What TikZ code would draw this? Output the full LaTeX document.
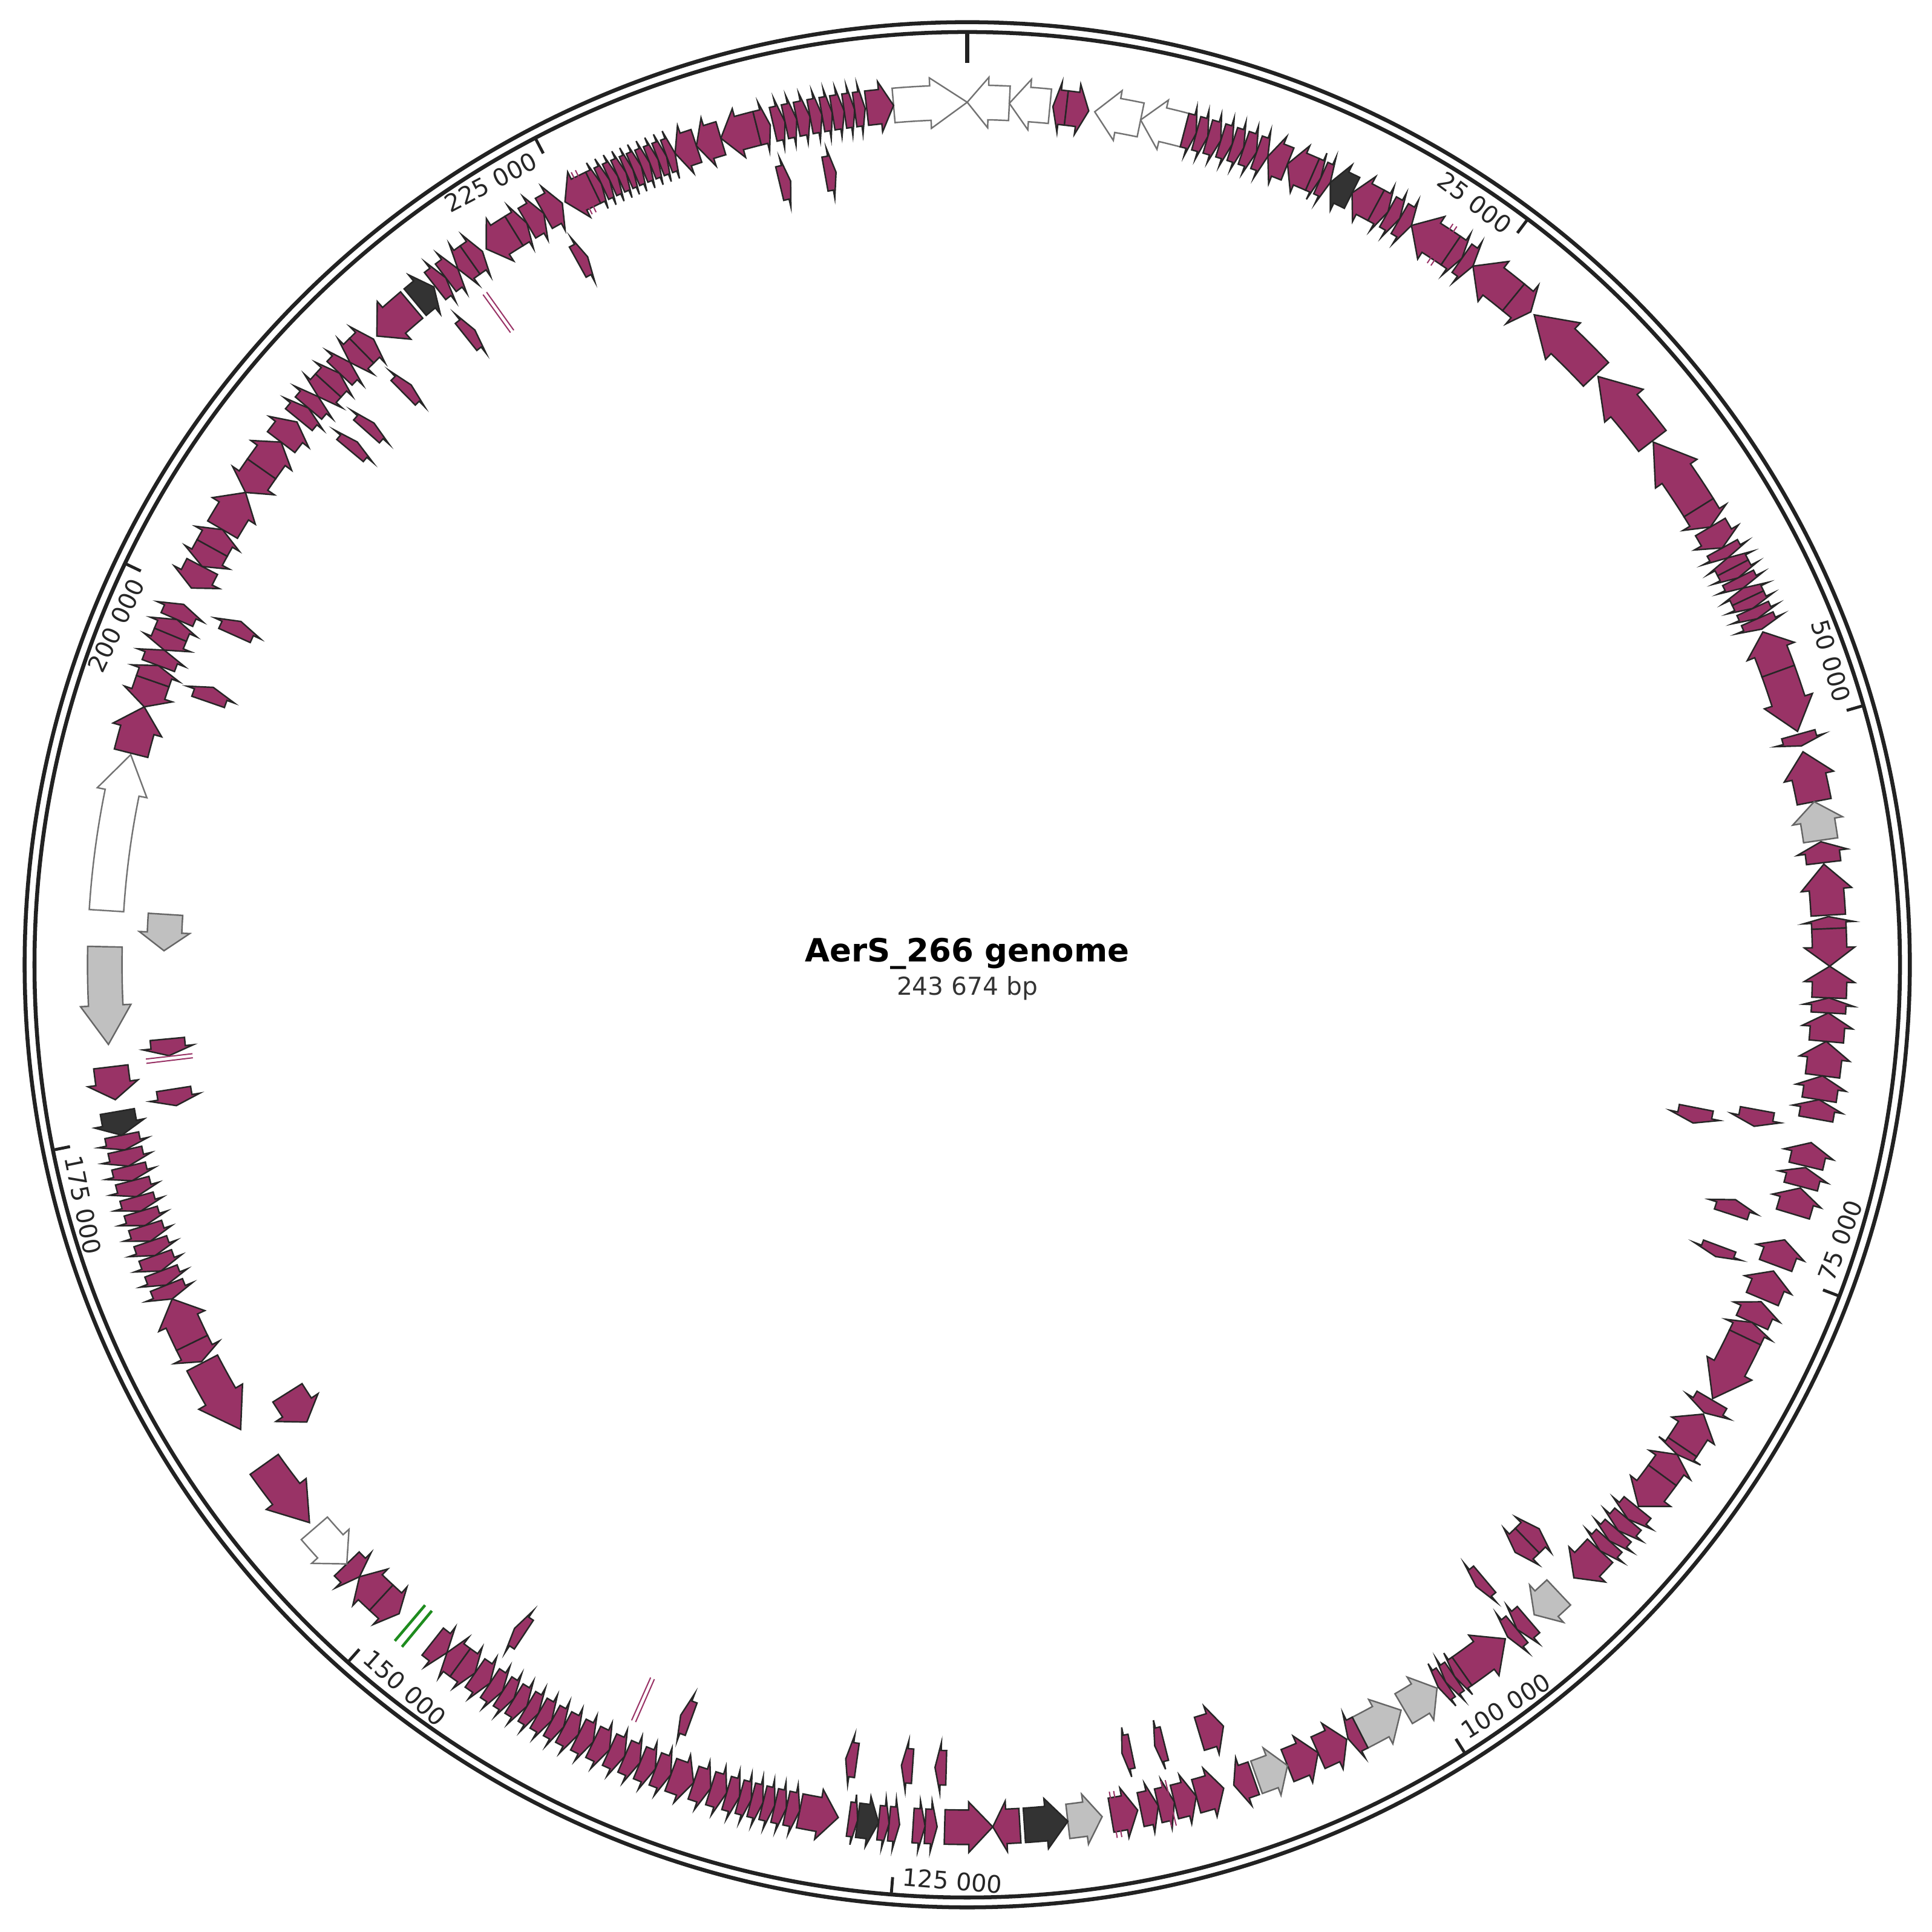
\documentclass[tikz,border=0pt]{standalone}
\usepackage{fontspec}
\setmainfont{DejaVu Sans}
\definecolor{cds}{HTML}{993366}
\definecolor{ringc}{HTML}{222222}
\definecolor{greyc}{HTML}{C0C0C0}
\definecolor{darkc}{HTML}{333333}
\definecolor{rrnac}{HTML}{1E8C1E}

% gene arrow: from angle #2 to angle #3 (compass degrees), on the lane of radius #4
\newcommand{\gene}[4][cd]{%
  \pgfmathsetmacro\gnA{90-(#2)}%
  \pgfmathsetmacro\gnB{90-(#3)}%
  \pgfmathsetmacro\gnS{((#3)>(#2))*2-1}%
  \pgfmathsetmacro\gnL{abs((#3)-(#2))}%
  \pgfmathsetmacro\gnH{min(5700/(pi*(#4)),0.5*\gnL)*\gnS}%
  \pgfmathsetmacro\gnM{\gnB+\gnH}%
  \pgfmathsetmacro\gnRi{(#4)-14}\pgfmathsetmacro\gnRo{(#4)+14}%
  \pgfmathsetmacro\gnHi{(#4)-20.5}\pgfmathsetmacro\gnHo{(#4)+20.5}%
  \draw[#1] (\gnA:\gnRi) arc[start angle=\gnA,end angle=\gnM,radius=\gnRi]
    -- (\gnM:\gnHi) -- (\gnB:#4) -- (\gnM:\gnHo) -- (\gnM:\gnRo)
    arc[start angle=\gnM,end angle=\gnA,radius=\gnRo] -- cycle;}
% double rna line at angle #2, lane #3, half gap #4
\newcommand{\rna}[4][trna]{%
  \draw[#1] ({90-(#2)-(#4)}:{(#3)-19}) -- ({90-(#2)-(#4)}:{(#3)+19});
  \draw[#1] ({90-(#2)+(#4)}:{(#3)-19}) -- ({90-(#2)+(#4)}:{(#3)+19});}

\begin{document}
\begin{tikzpicture}[x=1pt,y=1pt,
    cd/.style={draw=black!85,fill=cds,line width=1.2pt},
    wt/.style={draw=black!55,fill=white,line width=1.2pt},
    gy/.style={draw=black!60,fill=greyc,line width=1.2pt},
    dk/.style={draw=black!85,fill=darkc,line width=1.2pt},
    trna/.style={draw=cds,line width=1pt},
    rrna/.style={draw=rrnac,line width=2.2pt},
    ringline/.style={draw=ringc,line width=3.2pt},
    lbl/.style={font=\fontsize{19.6}{22}\selectfont,text=black!85,inner sep=0pt}]
    \useasboundingbox (-785,-785) rectangle (783,783);

    \draw[ringline] (0,0) circle[radius=765];
    \draw[ringline] (0,0) circle[radius=757];
    \draw[ringc,line width=3.5pt] (90:757) -- (90:732);
    \foreach \k in {1,...,9} {
        \pgfmathsetmacro\tA{90-\k*36.9346}
        \draw[ringc,line width=2.4pt] (\tA:757) -- (\tA:743);
    }
    \node[lbl,rotate=-36.93,anchor=east] (k25) at ({90-36.93+0.6}:742) {25 000};
    \node[lbl,rotate=-73.87,anchor=east] (k50) at ({90-73.87+0.6}:742) {50 000};
    \node[lbl,rotate=180-110.80,anchor=west] (k75) at ({90-110.80+0.6}:742) {75 000};
    \node[lbl,rotate=180-147.74,anchor=west] (k100) at ({90-147.74+0.6}:742) {100 000};
    \node[lbl,rotate=180-184.67,anchor=west] (k125) at ({90-184.67+0.6}:742) {125 000};
    \node[lbl,rotate=180-221.61,anchor=west] (k150) at ({90-221.61+0.6}:742) {150 000};
    \node[lbl,rotate=180-258.54,anchor=west] (k175) at ({90-258.54+0.6}:742) {175 000};
    \node[lbl,rotate=-295.48,anchor=east] (k200) at ({90-295.48+0.6}:742) {200 000};
    \node[lbl,rotate=-332.41,anchor=east] (k225) at ({90-332.41+0.6}:742) {225 000};

    \node[font=\bfseries\fontsize{26}{30}\selectfont] (ttl) at (0,9) {AerS\_266 genome};
    \node[font=\fontsize{20}{24}\selectfont,text=black!80] (len) at (0,-19) {243 674 bp};

    % outer lane
    \gene[wt]{355.1}{360}{700}
    \gene[wt]{2.8}{0}{700}
    \gene[wt]{5.5}{2.8}{700}
    \gene{6.6}{5.7}{700}
    \gene{6.6}{8.1}{700}
    \gene[wt]{11.6}{8.5}{700}
    \gene[wt]{14.6}{11.6}{700}
    \foreach \a/\b in {14.6/15.4,15.4/16.2,16.2/17.1,17.1/17.9,17.9/18.7,18.7/19.6,19.6/20.4}
        {\gene{\a}{\b}{700}}
    \gene{21.8}{20.4}{700}
    \gene{23.6}{21.8}{700}
    \gene{23.6}{24.2}{700}
    \gene{24.2}{24.9}{700}
    \gene[dk]{26.5}{24.9}{700}
    \gene{28.3}{26.5}{700}
    \foreach \a/\b in {28.3/29.2,29.2/30.1,30.1/31}
        {\gene{\a}{\b}{700}}
    \gene{34.1}{31}{700}
    \rna{33.4}{700}{0.15}
    \gene{34.1}{35}{700}
    \gene{35}{35.9}{700}
    \gene{39.3}{35.9}{700}
    \gene{39.3}{40.8}{700}
    \gene{46.8}{41.1}{700}
    \gene{52.6}{47}{700}
    \gene{58}{52.7}{700}
    \gene{58}{59.5}{700}
    \gene{59.5}{61.1}{700}
    \foreach \a/\b in {61.1/61.85,62.6/61.85,62.6/63.35,63.35/64.1,64.85/64.1,64.85/65.6,65.6/66.35,66.35/67.1}
        {\gene{\a}{\b}{700}}
    \gene{70.1}{67.3}{700}
    \gene{70.1}{74.3}{700}
    \gene{74.5}{75.3}{700}
    \gene{79.1}{75.7}{700}
    \gene[gy]{81.7}{79.1}{700}
    \gene{83.2}{81.8}{700}
    \gene{86.7}{83.3}{700}
    \gene{87.6}{86.8}{700}
    \gene{87.6}{90.1}{700}
    \gene{92.2}{90.1}{700}
    \gene{93.2}{92.2}{700}
    \gene{95.1}{93.2}{700}
    \gene{97.4}{95.1}{700}
    \gene{99}{97.4}{700}
    \gene{100.3}{99}{700}
    \gene{103.5}{101.9}{700}
    \gene{104.9}{103.6}{700}
    \gene{106.8}{105}{700}
    \gene{110.4}{108.6}{700}
    \gene{112.8}{110.8}{700}
    \gene{114.5}{113}{700}
    \gene{115.6}{114.5}{700}
    \gene{115.6}{120.2}{700}
    \gene{120.3}{121.3}{700}
    \gene{124}{121.4}{700}
    \gene{124}{124.6}{700}
    \gene{126.3}{124.6}{700}
    \gene{126.3}{128.9}{700}
    \foreach \a/\b in {129/130,130/131,131/131.9,131.9/132.8}
        {\gene{\a}{\b}{700}}
    \gene{132.8}{135.3}{700}
    \gene[gy]{136.7}{138.9}{700}
    \gene{139.4}{140.4}{700}
    \gene{140.4}{141.2}{700}
    \gene{145}{141.4}{700}
    \foreach \a/\b in {145/145.6,145.6/146.3,146.3/146.9}
        {\gene{\a}{\b}{700}}
    \gene[gy]{149.6}{147}{700}
    \gene[gy]{152.9}{149.8}{700}
    \gene{152.9}{153.8}{700}
    \gene{156}{153.9}{700}
    \gene{158.2}{156}{700}
    \gene[gy]{160.4}{158.2}{700}
    \gene{160.6}{162}{700}
    \gene{164.6}{162.7}{700}
    \gene{166.1}{164.6}{700}
    \gene{167.2}{166.1}{700}
    \gene{168.4}{167.2}{700}
    \rna{166.5}{700}{0.15}
    \gene{170.4}{168.6}{700}
    \rna{170.1}{700}{0.15}
    \gene[gy]{173.3}{171}{700}
    \gene[dk]{176.2}{173.3}{700}
    \gene{176.5}{178.3}{700}
    \gene{181.5}{178.3}{700}
    \gene{182.8}{182}{700}
    \gene{183.6}{182.8}{700}
    \gene{185.2}{184.5}{700}
    \gene{185.9}{185.2}{700}
    \gene[dk]{187.3}{185.9}{700}
    \gene{187.9}{187.3}{700}
    \gene{191.2}{188.6}{700}
    \foreach \a/\b in {198.5/197.3,197.3/196.2,196.2/195.3,195.3/194.5,194.5/193.7,193.7/192.9,192.9/192.1,192.1/191.2}
        {\gene{\a}{\b}{700}}
    \gene{200.1}{198.5}{700}
    \foreach \a/\b in {207.9/206.8,206.8/205.7,205.7/204.5,204.5/203.4,203.4/202.3,202.3/201.2,201.2/200.1}
        {\gene{\a}{\b}{700}}
    \foreach \a/\b in {213.6/212.6,212.6/211.7,211.7/210.7,210.7/209.8,209.8/208.8,208.8/207.9}
        {\gene{\a}{\b}{700}}
    \foreach \a/\b in {218.3/217.1,216/217.1,216/214.8,214.8/213.6}
        {\gene{\a}{\b}{700}}
    \rna[rrna]{219.95}{700}{0.3}
    \gene{222.8}{221.2}{700}
    \gene{222.8}{224.8}{700}
    \gene{226}{224.8}{700}
    \gene[wt]{229.2}{226}{700}
    \gene{234.6}{229.7}{700}
    \gene{242.5}{237.4}{700}
    \gene{244}{242.6}{700}
    \gene{244}{247.2}{700}
    \foreach \a/\b in {258.6/257.6,257.6/256.5,256.5/255.5,255.5/254.4,254.4/253.4,253.4/252.4,252.4/251.3,251.3/250.3,250.3/249.2,249.2/248.2,248.2/247.2}
        {\gene{\a}{\b}{700}}
    \gene[dk]{260.2}{258.6}{700}
    \gene{263.2}{261}{700}
    \gene[gy]{271.2}{264.7}{700}
    \gene[wt]{273.6}{284.1}{700}
    \gene{284.2}{287.4}{700}
    \gene{289.2}{287.4}{700}
    \foreach \a/\b in {289.2/290.3,290.3/291.4,292.5/291.4,292.5/293.6,293.6/294.7}
        {\gene{\a}{\b}{700}}
    \gene{297.5}{295.9}{700}
    \gene{298.9}{297.5}{700}
    \gene{298.9}{300.3}{700}
    \gene{300.3}{303.2}{700}
    \gene{305.1}{303.2}{700}
    \gene{305.1}{307.3}{700}
    \gene{307.3}{309}{700}
    \foreach \a/\b in {309.2/310.2,310.2/311.2,312.2/311.2,312.2/313.3,313.3/314.3,315.4/314.3,315.4/316.5}
        {\gene{\a}{\b}{700}}
    \gene{319.9}{316.8}{700}
    \gene[dk]{320.2}{321.8}{700}
    \foreach \a/\b in {321.9/322.8,322.8/323.8,324.8/323.8,324.8/325.8}
        {\gene{\a}{\b}{700}}
    \gene{328.3}{326.1}{700}
    \gene{328.3}{329.3}{700}
    \gene{329.3}{330.6}{700}
    \gene{330.6}{332}{700}
    \gene{334.3}{332.2}{700}
    \rna{333.6}{700}{0.15}
    \foreach \a/\b in {334.3/334.9,334.9/335.5,335.5/336.1,336.1/336.7,336.7/337.2,337.2/337.8,337.8/338.4,338.4/339,339/339.6,339.6/340.2}
        {\gene{\a}{\b}{700}}
    \gene{341.7}{340.2}{700}
    \gene{343.4}{341.7}{700}
    \gene{345.9}{343.4}{700}
    \gene{345.9}{346.8}{700}
    \foreach \a/\b in {347/347.8,347.8/348.6,348.6/349.5,349.5/350.3,350.3/351,351/351.8,351.8/352.5,352.5/353.2}
        {\gene{\a}{\b}{700}}
    \gene{353.3}{355.1}{700}

    % inner lanes
    \gene{100.4}{101.6}{652}
    \gene{101.1}{102.3}{603}
    \gene{108.1}{107}{652}
    \gene{110.5}{111.3}{652}
    \gene{135.8}{134.6}{652}
    \gene{135.8}{137}{652}
    \gene{139.9}{140.7}{652}
    \gene{163.2}{161.4}{652}
    \gene{165.8}{166.5}{652}
    \gene{168.2}{168.9}{652}
    \gene{181.5}{182.3}{652}
    \gene{183.9}{184.7}{652}
    \gene{187.9}{188.7}{652}
    \gene{200.1}{200.9}{652}
    \rna{203.8}{652}{0.15}
    \gene{213.5}{214.3}{652}
    \gene{237.8}{235.3}{652}
    \gene{261.1}{259.9}{652}
    \gene{264.7}{263.5}{652}
    \rna{263.3}{652}{0.15}
    \gene[gy]{273.6}{271}{652}
    \gene{289.1}{290.2}{652}
    \gene{294.2}{295.3}{652}
    \gene{309.8}{310.6}{652}
    \gene{311.6}{312.4}{652}
    \gene{315.4}{316.2}{652}
    \gene{321.4}{322.2}{652}
    \rna{324.3}{652}{0.15}
    \gene{331}{331.8}{652}
    \gene{346.5}{347.3}{652}
    \gene{349.8}{350.6}{652}
\end{tikzpicture}
\end{document}
